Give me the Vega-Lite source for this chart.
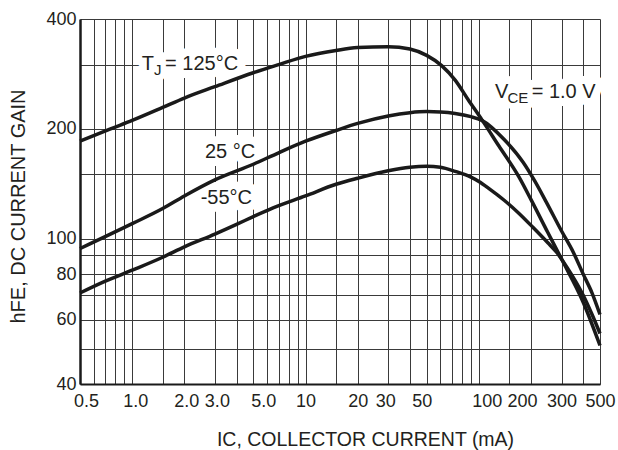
{
  "$schema": "https://vega.github.io/schema/vega-lite/v6.json",
  "width": 520,
  "height": 365,
  "autosize": {"type": "none"},
  "padding": {"left": 80, "top": 19, "right": 18, "bottom": 66},
  "background": "white",
  "config": {
    "font": "Liberation Sans",
    "view": {"stroke": null},
    "axis": {
      "grid": true,
      "gridColor": "#3a3a3a",
      "gridWidth": 1,
      "gridOpacity": 1,
      "ticks": false,
      "domainColor": "#1a1a1a",
      "labelColor": "#231f20",
      "titleColor": "#231f20",
      "labelFont": "Liberation Sans",
      "titleFont": "Liberation Sans",
      "labelFontSize": 18,
      "titleFontSize": 19.5,
      "titleFontWeight": "normal",
      "labelOverlap": false,
      "labelFlush": false,
      "labelBound": false
    }
  },
  "datasets": {
    "curves": [
      {"T": "125", "I": 0.5, "h": 185}, {"T": "125", "I": 0.75, "h": 200}, {"T": "125", "I": 1, "h": 211},
      {"T": "125", "I": 1.5, "h": 229}, {"T": "125", "I": 2, "h": 243}, {"T": "125", "I": 3, "h": 261},
      {"T": "125", "I": 5, "h": 285}, {"T": "125", "I": 7, "h": 300}, {"T": "125", "I": 10, "h": 316},
      {"T": "125", "I": 15, "h": 328}, {"T": "125", "I": 20, "h": 334}, {"T": "125", "I": 30, "h": 336},
      {"T": "125", "I": 40, "h": 331}, {"T": "125", "I": 50, "h": 318}, {"T": "125", "I": 61, "h": 298},
      {"T": "125", "I": 73, "h": 272}, {"T": "125", "I": 87, "h": 240}, {"T": "125", "I": 104, "h": 212},
      {"T": "125", "I": 130, "h": 180}, {"T": "125", "I": 170, "h": 148}, {"T": "125", "I": 200, "h": 128},
      {"T": "125", "I": 250, "h": 104}, {"T": "125", "I": 300, "h": 88}, {"T": "125", "I": 400, "h": 67},
      {"T": "125", "I": 500, "h": 51},
      {"T": "25", "I": 0.5, "h": 94}, {"T": "25", "I": 1, "h": 110}, {"T": "25", "I": 1.5, "h": 121},
      {"T": "25", "I": 2, "h": 131}, {"T": "25", "I": 3, "h": 145}, {"T": "25", "I": 5, "h": 160},
      {"T": "25", "I": 7, "h": 172}, {"T": "25", "I": 10, "h": 185}, {"T": "25", "I": 15, "h": 198},
      {"T": "25", "I": 20, "h": 207}, {"T": "25", "I": 30, "h": 217}, {"T": "25", "I": 40, "h": 221.5},
      {"T": "25", "I": 50, "h": 223}, {"T": "25", "I": 60, "h": 222.5}, {"T": "25", "I": 73, "h": 220.5},
      {"T": "25", "I": 90, "h": 216}, {"T": "25", "I": 104, "h": 211}, {"T": "25", "I": 140, "h": 187},
      {"T": "25", "I": 180, "h": 162}, {"T": "25", "I": 210, "h": 144}, {"T": "25", "I": 245, "h": 126},
      {"T": "25", "I": 300, "h": 105}, {"T": "25", "I": 350, "h": 92}, {"T": "25", "I": 400, "h": 80},
      {"T": "25", "I": 450, "h": 71}, {"T": "25", "I": 500, "h": 62},
      {"T": "-55", "I": 0.5, "h": 71}, {"T": "-55", "I": 0.7, "h": 76.5}, {"T": "-55", "I": 1, "h": 82},
      {"T": "-55", "I": 1.5, "h": 89}, {"T": "-55", "I": 2, "h": 95}, {"T": "-55", "I": 3, "h": 103},
      {"T": "-55", "I": 4, "h": 109.5}, {"T": "-55", "I": 5, "h": 115}, {"T": "-55", "I": 6.5, "h": 121.5},
      {"T": "-55", "I": 10, "h": 131}, {"T": "-55", "I": 15, "h": 141}, {"T": "-55", "I": 20, "h": 146.5},
      {"T": "-55", "I": 30, "h": 153.5}, {"T": "-55", "I": 40, "h": 157}, {"T": "-55", "I": 50, "h": 158},
      {"T": "-55", "I": 60, "h": 157}, {"T": "-55", "I": 73, "h": 153}, {"T": "-55", "I": 90, "h": 147.5},
      {"T": "-55", "I": 100, "h": 143.5}, {"T": "-55", "I": 115, "h": 137}, {"T": "-55", "I": 140, "h": 127.5},
      {"T": "-55", "I": 170, "h": 117.5}, {"T": "-55", "I": 205, "h": 107.5}, {"T": "-55", "I": 250, "h": 97.5},
      {"T": "-55", "I": 280, "h": 92}, {"T": "-55", "I": 320, "h": 84}, {"T": "-55", "I": 400, "h": 70},
      {"T": "-55", "I": 450, "h": 62}, {"T": "-55", "I": 500, "h": 55}
    ],
    "notes": [
      {"txt": "T", "I": 1.135, "h": 290, "kind": "main"},
      {"txt": "J", "I": 1.337, "h": 281, "kind": "sub"},
      {"txt": "= 125°C", "I": 1.547, "h": 290, "kind": "main"},
      {"txt": "25 °C", "I": 2.63, "h": 166.4, "kind": "main"},
      {"txt": "-55°C", "I": 2.485, "h": 124.5, "kind": "main"},
      {"txt": "V", "I": 123.9, "h": 242.6, "kind": "main"},
      {"txt": "CE", "I": 146.4, "h": 236.2, "kind": "sub"},
      {"txt": "= 1.0 V", "I": 201.8, "h": 242.6, "kind": "main"}
    ]
  },
  "encoding": {
    "x": {
      "field": "I",
      "type": "quantitative",
      "scale": {"type": "log", "domain": [0.5, 500], "nice": false},
      "axis": {
        "values": [0.5, 0.6, 0.7, 0.8, 0.9, 1, 1.5, 2, 3, 4, 5, 6, 7, 8, 9, 10, 15, 20, 30, 40, 50, 60, 70, 80, 90, 100, 150, 200, 300, 400, 500],
        "labelExpr": "indexof([0.5,1,2,3,5], datum.value) >= 0 ? format(datum.value, '.1f') : (indexof([10,20,30,50,100,200,300,500], datum.value) >= 0 ? format(datum.value, 'd') : '')",
        "labelOffset": {
          "condition": [
            {"test": "datum.value == 0.5", "value": 6},
            {"test": "datum.value == 1", "value": 3},
            {"test": "datum.value == 2", "value": 2},
            {"test": "datum.value == 3", "value": 2},
            {"test": "datum.value == 5", "value": 10},
            {"test": "datum.value == 30", "value": -3},
            {"test": "datum.value == 50", "value": -5},
            {"test": "datum.value == 100", "value": 8},
            {"test": "datum.value == 200", "value": -9}
          ],
          "value": 0
        },
        "labelBaseline": "alphabetic",
        "labelPadding": 22,
        "domainWidth": 2,
        "title": "IC, COLLECTOR CURRENT (mA)",
        "titleX": 285,
        "titleY": 46,
        "titleBaseline": "top",
        "titleAlign": "center"
      }
    },
    "y": {
      "field": "h",
      "type": "quantitative",
      "scale": {"type": "log", "domain": [40, 400], "nice": false},
      "axis": {
        "values": [40, 50, 60, 70, 80, 90, 100, 150, 200, 300, 400],
        "labelExpr": "indexof([40,60,80,100,200,400], datum.value) >= 0 ? '' + datum.value : ''",
        "labelPadding": 4,
        "labelBaseline": "middle",
        "domainWidth": 2.5,
        "title": "hFE, DC CURRENT GAIN",
        "titleFontSize": 20,
        "titleX": -62,
        "titleY": 187,
        "titleBaseline": "middle",
        "titleAlign": "center",
        "titleAngle": 270
      }
    }
  },
  "layer": [
    {
      "data": {"name": "notes"},
      "transform": [{"filter": "datum.kind == 'main'"}],
      "mark": {"type": "text", "align": "left", "baseline": "alphabetic", "fontSize": 20, "fill": "white", "stroke": "white", "strokeWidth": 16, "strokeJoin": "round"},
      "encoding": {"text": {"field": "txt"}}
    },
    {
      "data": {"name": "notes"},
      "transform": [{"filter": "datum.kind == 'sub'"}],
      "mark": {"type": "text", "align": "left", "baseline": "alphabetic", "fontSize": 15, "fill": "white", "stroke": "white", "strokeWidth": 12, "strokeJoin": "round"},
      "encoding": {"text": {"field": "txt"}}
    },
    {
      "data": {"name": "curves"},
      "mark": {"type": "line", "interpolate": "monotone", "strokeWidth": 3.5, "color": "#1a1a1a", "strokeCap": "butt"},
      "encoding": {
        "detail": {"field": "T"}
      }
    },
    {
      "data": {"name": "notes"},
      "transform": [{"filter": "datum.kind == 'main'"}],
      "mark": {"type": "text", "align": "left", "baseline": "alphabetic", "fontSize": 20, "fill": "#231f20"},
      "encoding": {"text": {"field": "txt"}}
    },
    {
      "data": {"name": "notes"},
      "transform": [{"filter": "datum.kind == 'sub'"}],
      "mark": {"type": "text", "align": "left", "baseline": "alphabetic", "fontSize": 15, "fill": "#231f20"},
      "encoding": {"text": {"field": "txt"}}
    }
  ]
}
